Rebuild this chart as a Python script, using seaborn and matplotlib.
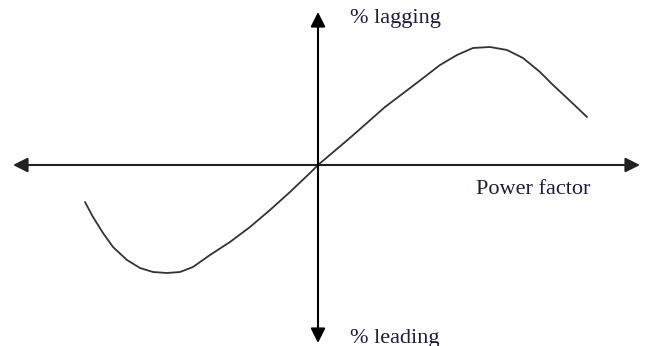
import matplotlib
matplotlib.use("Agg")
import matplotlib.pyplot as plt
import seaborn as sns
import pandas as pd

# Curve of percentage regulation against power factor (sketch units, origin at axes crossing)
curve_x = [-233, -225, -215, -205, -191, -178, -165, -151, -138, -125, -108, -88, -68,
           -48, -28, -8, 0, 33, 67, 100, 122, 139, 155, 172, 189, 205, 222, 235, 249, 269]
curve_y = [-37, -52, -68, -82, -95, -103, -107, -108, -107, -102, -90, -77, -62,
           -45, -27, -8, 0, 28, 58, 83, 100, 110, 117, 118, 115, 107, 93, 80, 67, 48]

axis_label_top = "% lagging"
axis_label_bottom = "% leading"
axis_label_right = "Power factor"

sns.set_theme(style="white")
plt.rcParams["font.family"] = ["Liberation Serif", "DejaVu Serif"]

fig = plt.figure(figsize=(6.64, 3.46), dpi=100)
ax = fig.add_axes([0, 0, 1, 1])
ax.set_xlim(-318, 346)
ax.set_ylim(-181, 165)
ax.axis("off")

df = pd.DataFrame({"pf": curve_x, "reg": curve_y})
sns.lineplot(data=df, x="pf", y="reg", sort=False, color="#333333", lw=1.3, ax=ax,
             solid_joinstyle="round", solid_capstyle="round")

arrow_kw = dict(arrowstyle="<|-|>", color="black", lw=1.5, mutation_scale=22,
                shrinkA=0, shrinkB=0)
ax.annotate("", xy=(-305, 0), xytext=(322, 0),
            arrowprops=dict(arrow_kw, color="#222222"))
ax.annotate("", xy=(0, 153), xytext=(0, -178), arrowprops=arrow_kw)

txt_kw = dict(fontsize=16, color="#1c1c3c", va="center", ha="left")
ax.text(32, 147, axis_label_top, **txt_kw)
ax.text(32, -173, axis_label_bottom, **txt_kw)
ax.text(158, -24, axis_label_right, **txt_kw)

fig.savefig("out.png", dpi=100)
